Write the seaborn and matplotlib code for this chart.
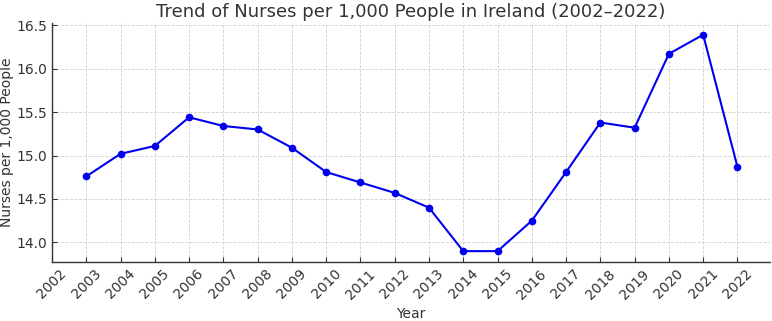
import pandas as pd
import matplotlib
matplotlib.use("Agg")
import matplotlib.pyplot as plt
import seaborn as sns

# Data
years = [2003, 2004, 2005, 2006, 2007, 2008, 2009, 2010, 2011, 2012,
         2013, 2014, 2015, 2016, 2017, 2018, 2019, 2020, 2021, 2022]
nurses = [14.76, 15.02, 15.11, 15.44, 15.34, 15.30, 15.09, 14.81, 14.69, 14.57,
          14.40, 13.90, 13.90, 14.25, 14.81, 15.38, 15.32, 16.17, 16.39, 14.87]
tick_years = list(range(2002, 2023))

df = pd.DataFrame({"Year": years, "Nurses": nurses})

sns.set_style("whitegrid", {
    "grid.color": "#d0d0d0",
    "grid.linestyle": "--",
    "axes.edgecolor": "#333333",
    "xtick.direction": "in",
    "ytick.direction": "in",
})
plt.rcParams["font.family"] = ["DejaVu Sans"]
text_color = "#333333"

fig, ax = plt.subplots(figsize=(7.72, 3.21), dpi=100)
fig.subplots_adjust(left=52 / 772, right=770 / 772, top=1 - 23 / 321, bottom=1 - 262 / 321)

sns.lineplot(data=df, x="Year", y="Nurses", ax=ax, color="#0000ee",
             marker="o", markersize=5.5, markeredgewidth=0, linewidth=1.5)

ax.set_xticks(tick_years)
ax.set_xticklabels([str(y) for y in tick_years], rotation=45, fontsize=10, color=text_color)
ax.set_xlim(2002, 2022.95)
ax.set_ylim(13.775, 16.525)
ax.set_yticks([14.0, 14.5, 15.0, 15.5, 16.0, 16.5])
ax.tick_params(axis="y", labelsize=10, labelcolor=text_color)
ax.tick_params(axis="both", length=3.5, width=0.8, color="#333333",
               bottom=True, left=True)
ax.grid(True, linewidth=0.6)

ax.set_title("Trend of Nurses per 1,000 People in Ireland (2002\u20132022)",
             fontsize=13, color=text_color, pad=4)
ax.set_xlabel("Year", fontsize=10, color=text_color)
ax.set_ylabel("Nurses per 1,000 People", fontsize=10, color=text_color, labelpad=1.5)

for side in ["top", "right"]:
    ax.spines[side].set_visible(False)
for side in ["left", "bottom"]:
    ax.spines[side].set_linewidth(1.0)

fig.savefig("out.png", dpi=100)
